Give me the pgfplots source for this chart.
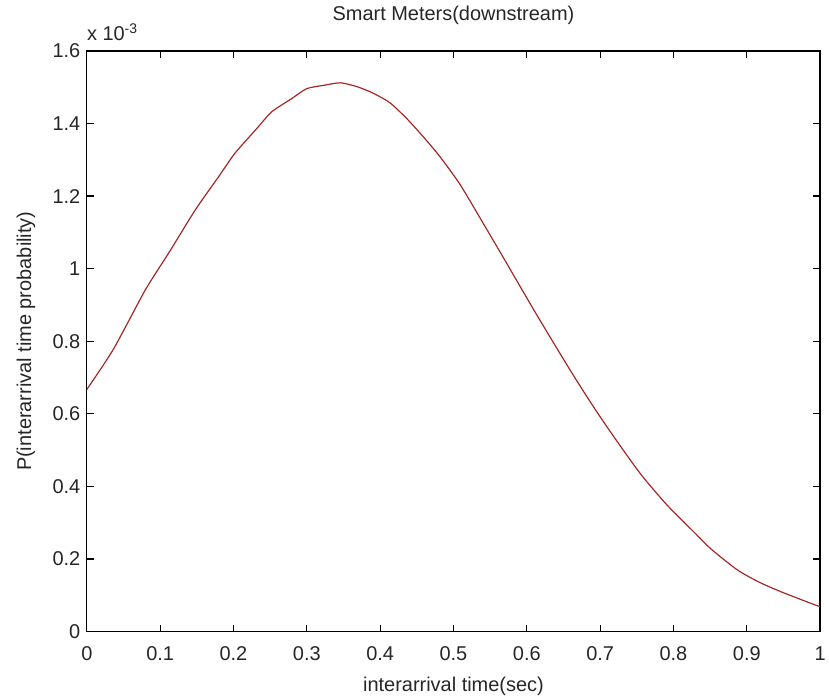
\documentclass[border=0pt]{standalone}
\usepackage{pgfplots}
\pgfplotsset{compat=1.18}
\usepackage{fontspec}
\setmainfont{Liberation Sans}
\definecolor{curve}{RGB}{165,40,40}
\pgfplotstableread{
x y
0.000 0.667e-3
0.036 0.777e-3
0.080 0.942e-3
0.112 1.044e-3
0.148 1.162e-3
0.180 1.254e-3
0.202 1.318e-3
0.234 1.391e-3
0.252 1.432e-3
0.279 1.468e-3
0.300 1.496e-3
0.323 1.505e-3
0.346 1.512e-3
0.369 1.501e-3
0.391 1.483e-3
0.414 1.456e-3
0.437 1.412e-3
0.459 1.363e-3
0.481 1.310e-3
0.508 1.235e-3
0.535 1.144e-3
0.567 1.034e-3
0.590 0.954e-3
0.612 0.878e-3
0.639 0.787e-3
0.666 0.698e-3
0.693 0.613e-3
0.720 0.533e-3
0.756 0.432e-3
0.792 0.347e-3
0.828 0.274e-3
0.851 0.228e-3
0.887 0.170e-3
0.918 0.135e-3
0.950 0.107e-3
0.995 0.072e-3
1.000 0.070e-3
}\datatable
\begin{document}
\begin{tikzpicture}
\begin{axis}[
  scale only axis, width=735pt, height=582pt,
  xmin=0, xmax=1, ymin=0, ymax=1.6e-3,
  xtick={0,0.1,0.2,0.3,0.4,0.5,0.6,0.7,0.8,0.9,1},
  xticklabels={0,0.1,0.2,0.3,0.4,0.5,0.6,0.7,0.8,0.9,1},
  ytick={0,0.2e-3,0.4e-3,0.6e-3,0.8e-3,1.0e-3,1.2e-3,1.4e-3,1.6e-3},
  yticklabels={0,0.2,0.4,0.6,0.8,1,1.2,1.4,1.6},
  scaled y ticks=false,
  tick align=inside, major tick length=7pt,
  tick style={black, line width=1.2pt},
  axis line style={black, line width=1.3pt},
  tick label style={font=\fontsize{20}{24}\selectfont, color=black!85},
  xticklabel style={anchor=base, yshift=-29pt},
  yticklabel style={xshift=-3pt},
  title={Smart Meters(downstream)},
  title style={at={(rel axis cs:0.5,1)}, anchor=base, yshift=24pt, font=\fontsize{20}{24}\selectfont, color=black!85},
  xlabel={interarrival time(sec)},
  xlabel style={at={(rel axis cs:0.5,0)}, anchor=base, yshift=-60pt, font=\fontsize{20}{24}\selectfont, color=black!85},
  ylabel={P(interarrival time probability)},
  ylabel style={at={(axis description cs:-0.0758,0.5)}, anchor=base, font=\fontsize{20}{24}\selectfont, color=black!85},
]
\addplot[curve, line width=1.2pt, smooth, tension=0.4] table[x=x, y=y] {\datatable};
\end{axis}
\node[anchor=base west, inner sep=0pt, font=\fontsize{20}{24}\selectfont, color=black!85] at ([yshift=10pt]current axis.north west) {x 10\textsuperscript{-3}};
\path ([xshift=-87pt,yshift=-63pt]current axis.south west) rectangle ([xshift=3pt,yshift=51pt]current axis.north east);
\end{tikzpicture}
\end{document}
